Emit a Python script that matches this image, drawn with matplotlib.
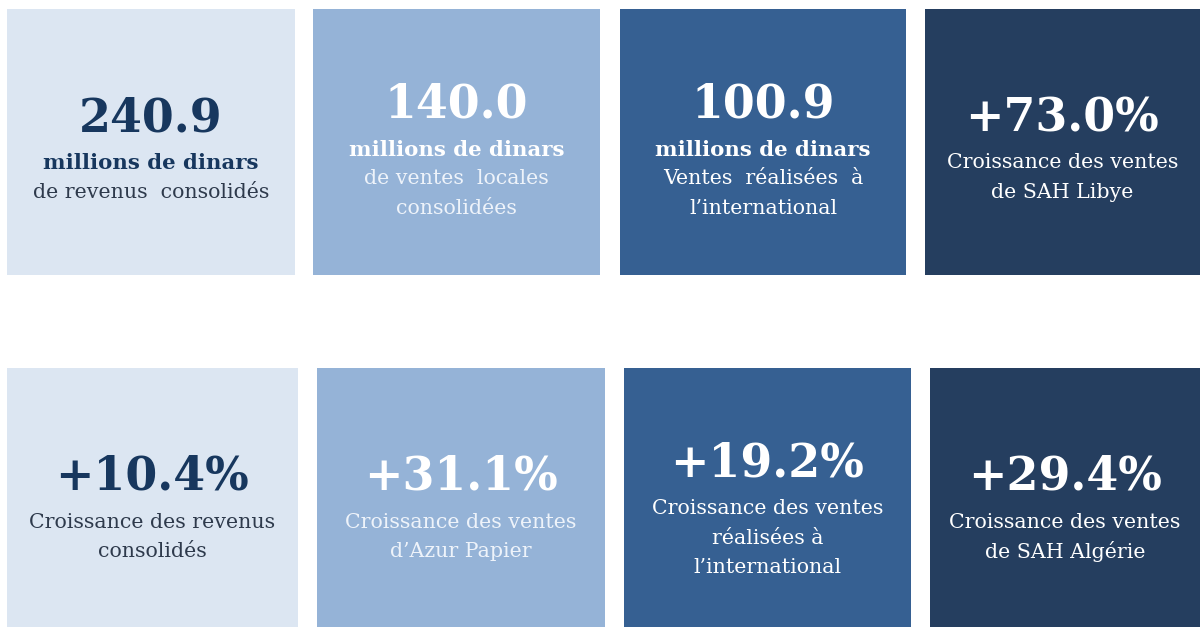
import matplotlib
matplotlib.use("Agg")
import matplotlib.pyplot as plt
from matplotlib.patches import Rectangle

# chiffres clés (ligne du haut puis ligne du bas)
valeurs = ['240.9', '140.0', '100.9', '+73.0%',
           '+10.4%', '+31.1%', '+19.2%', '+29.4%']
unites = ['millions de dinars', 'millions de dinars', 'millions de dinars', '',
          '', '', '', '']
libelles = [
    'de revenus  consolidés',
    'de ventes  locales\nconsolidées',
    'Ventes  réalisées  à\nl\u2019international',
    'Croissance des ventes\nde SAH Libye',
    'Croissance des revenus\nconsolidés',
    'Croissance des ventes\nd\u2019Azur Papier',
    'Croissance des ventes\nréalisées à\nl\u2019international',
    'Croissance des ventes\nde SAH Algérie',
]

# mise en page des tuiles (pixels)
tuiles_x = [(7, 295), (313, 600), (620, 906), (925, 1200),
            (7, 298), (317, 605), (624, 911), (930, 1200)]
tuiles_y = [(9, 275)] * 4 + [(368, 627)] * 4
centres_y = [142] * 4 + [501] * 4
fonds = ['#dce6f2', '#95b3d7', '#366092', '#253e5f']
texte_val = ['#17375e', 'white', 'white', 'white']
texte_lib = ['#2e3a4c', '#eef3fa', 'white', 'white']

W, H = 1200, 627
fig = plt.figure(figsize=(W / 100, H / 100), dpi=100)
ax = fig.add_axes([0, 0, 1, 1])
ax.set_xlim(0, W)
ax.set_ylim(H, 0)
ax.axis('off')

serif = ['DejaVu Serif']

for i, val in enumerate(valeurs):
    x0, x1 = tuiles_x[i]
    y0, y1 = tuiles_y[i]
    col = i % 4
    ax.add_patch(Rectangle((x0, y0), x1 - x0, y1 - y0, color=fonds[col], lw=0))
    cx = (x0 + x1) / 2
    n = libelles[i].count('\n') + 1 + (1 if unites[i] else 0)
    y = centres_y[i] - 24 - 13.5 * (n - 2)
    ax.text(cx, y, val, ha='center', va='center', fontsize=33,
            fontweight='bold', family=serif, color=texte_val[col])
    y += 45
    if unites[i]:
        ax.text(cx, y, unites[i], ha='center', va='center', fontsize=15.3,
                fontweight='bold', family=serif, color=texte_val[col])
        y += 29.5
    for ligne in libelles[i].split('\n'):
        ax.text(cx, y, ligne, ha='center', va='center', fontsize=14.8,
                family=serif, color=texte_lib[col])
        y += 29.5

fig.savefig('out.png', dpi=100, facecolor='white')
